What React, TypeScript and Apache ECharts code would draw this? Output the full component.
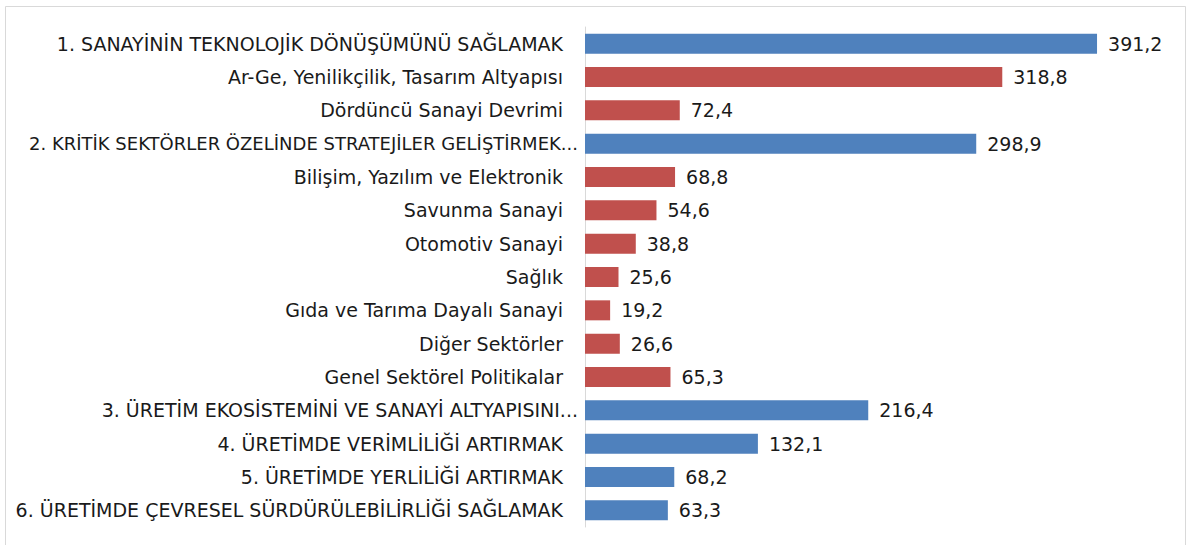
import React, { useEffect, useRef } from "react";
import * as echarts from "echarts";

const categories: string[] = [
  "1. SANAYİNİN TEKNOLOJİK DÖNÜŞÜMÜNÜ SAĞLAMAK",
  "Ar-Ge, Yenilikçilik, Tasarım Altyapısı",
  "Dördüncü Sanayi Devrimi",
  "2. KRİTİK SEKTÖRLER ÖZELİNDE STRATEJİLER GELİŞTİRMEK...",
  "Bilişim, Yazılım ve Elektronik",
  "Savunma Sanayi",
  "Otomotiv Sanayi",
  "Sağlık",
  "Gıda ve Tarıma Dayalı Sanayi",
  "Diğer Sektörler",
  "Genel Sektörel Politikalar",
  "3. ÜRETİM EKOSİSTEMİNİ VE SANAYİ ALTYAPISINI...",
  "4. ÜRETİMDE VERİMLİLİĞİ ARTIRMAK",
  "5. ÜRETİMDE YERLİLİĞİ ARTIRMAK",
  "6. ÜRETİMDE ÇEVRESEL SÜRDÜRÜLEBİLİRLİĞİ SAĞLAMAK",
];

const values: number[] = [391.2, 318.8, 72.4, 298.9, 68.8, 54.6, 38.8, 25.6, 19.2, 26.6, 65.3, 216.4, 132.1, 68.2, 63.3];

// true = main heading (blue), false = sub item (red)
const isMain: boolean[] = [true, false, false, true, false, false, false, false, false, false, false, true, true, true, true];

const BLUE = "#4F81BD";
const RED = "#C0504D";

export default function App() {
  const ref = useRef<HTMLDivElement>(null);
  useEffect(() => {
    if (!ref.current) return;
    const chart = echarts.init(ref.current, null, { renderer: "svg" });
    const font = "'DejaVu Sans', sans-serif";
    const yData = categories.map((c) => {
      if (c.startsWith("2. ")) {
        return { value: c, textStyle: { fontSize: 18, padding: [0, -15, 0, 0] } };
      }
      if (c.endsWith("...")) {
        return { value: c, textStyle: { padding: [0, -15, 0, 0] } };
      }
      return c;
    });
    chart.setOption({
      animation: false,
      backgroundColor: "#ffffff",
      graphic: [
        {
          type: "rect",
          shape: { x: 5.5, y: 6.5, width: 1180, height: 560 },
          style: { fill: "none", stroke: "#d9d9d9", lineWidth: 1 },
          silent: true,
        },
      ],
      grid: {
        left: 585,
        top: 27,
        width: 589,
        height: 500,
        containLabel: false,
        outerBoundsMode: "none",
      },
      xAxis: {
        type: "value",
        min: 0,
        max: 450,
        show: false,
        splitLine: { show: false },
      },
      yAxis: {
        type: "category",
        data: yData,
        inverse: true,
        axisLine: { show: true, lineStyle: { color: "#d9d9d9", width: 1 } },
        axisTick: { show: false },
        axisLabel: {
          margin: 22,
          fontFamily: font,
          fontSize: 19,
          color: "#1a1a1a",
        },
      },
      series: [
        {
          type: "bar",
          data: values.map((v, i) => ({
            value: v,
            itemStyle: { color: isMain[i] ? BLUE : RED },
          })),
          barCategoryGap: "40%",
          label: {
            show: true,
            position: "right",
            distance: 11,
            fontFamily: font,
            fontSize: 19,
            color: "#1a1a1a",
            formatter: (p: any) => Number(p.value).toFixed(1).replace(".", ","),
          },
        },
      ],
    });
    return () => chart.dispose();
  }, []);
  return (
    <div
      ref={ref}
      style={{ position: "fixed", left: 0, top: 0, width: 1200, height: 545 }}
    />
  );
}
